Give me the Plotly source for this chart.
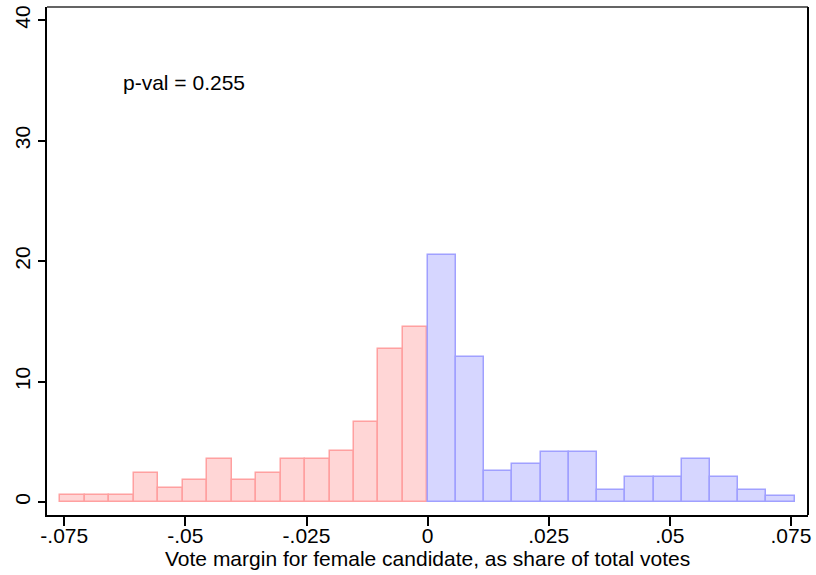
import plotly.graph_objects as go

# Histogram densities (left of cutoff: red, right of cutoff: blue)
red_heights = [0.55, 0.55, 0.55, 2.37, 1.16, 1.79, 3.61, 1.79, 2.37, 3.61, 3.61, 4.23, 6.63, 12.73, 14.55]
blue_heights = [20.51, 12.06, 2.57, 3.12, 4.14, 4.14, 0.99, 2.04, 2.04, 3.61, 2.04, 0.99, 0.46]
red_start, red_width = -0.0758, 0.00505
blue_start, blue_width = 0.0, 0.00583

red_left = [red_start + i * red_width for i in range(len(red_heights))]
blue_left = [blue_start + i * blue_width for i in range(len(blue_heights))]

x_tickvals = [-0.075, -0.05, -0.025, 0, 0.025, 0.05, 0.075]
x_ticktext = ["-.075", "-.05", "-.025", "0", ".025", ".05", ".075"]
y_tickvals = [0, 10, 20, 30, 40]
y_ticktext = ["0", "10", "20", "30", "40"]

FONT = "Liberation Sans, Arial"

fig = go.Figure()
fig.add_trace(go.Bar(
    x=red_left, y=red_heights, width=[red_width] * len(red_heights), offset=0,
    marker=dict(color="rgb(255,214,214)", line=dict(color="rgb(255,160,160)", width=1.5)),
    showlegend=False,
))
fig.add_trace(go.Bar(
    x=blue_left, y=blue_heights, width=[blue_width] * len(blue_heights), offset=0,
    marker=dict(color="rgb(214,214,255)", line=dict(color="rgb(160,160,255)", width=1.5)),
    showlegend=False,
))

fig.add_annotation(x=-0.0632, y=34.8, text="p-val = 0.255", showarrow=False,
                   xanchor="left", yanchor="middle",
                   font=dict(family=FONT, size=21, color="black"))

fig.add_annotation(xref="paper", yref="paper", x=0.5, y=0, yshift=-43,
                   text="Vote margin for female candidate, as share of total votes",
                   showarrow=False, xanchor="center", yanchor="middle",
                   font=dict(family=FONT, size=21, color="black"))

# top frame line in gray
fig.add_shape(type="line", xref="paper", yref="paper", x0=0, x1=1, y0=1, y1=1,
              line=dict(color="rgb(100,100,100)", width=2))
# right frame line
fig.add_shape(type="line", xref="paper", yref="paper", x0=1, x1=1, y0=0, y1=1,
              line=dict(color="black", width=2))

fig.update_layout(
    width=816, height=575,
    margin=dict(l=47, r=8, t=7, b=60),
    plot_bgcolor="white", paper_bgcolor="white",
    bargap=0,
    font=dict(family=FONT, size=21, color="black"),
    xaxis=dict(range=[-0.07857, 0.07853], tickvals=x_tickvals, ticktext=x_ticktext,
               ticks="outside", ticklen=9, tickwidth=1.5, tickcolor="black",
               showline=True, linecolor="black", linewidth=2, mirror=False,
               showgrid=False, zeroline=False, automargin=False,
               ticklabelstandoff=-8,
               tickfont=dict(size=21)),
    yaxis=dict(range=[-1.08, 41.1], tickvals=y_tickvals, ticktext=y_ticktext,
               ticks="outside", ticklen=7, tickwidth=1.5, tickcolor="black",
               showline=True, linecolor="black", linewidth=2, mirror=False,
               showgrid=False, zeroline=False, tickangle=-90, automargin=False,
               tickfont=dict(size=21)),
)

fig.write_html("out.html", config={"displayModeBar": False},
               post_script="document.body.style.margin='0px';document.body.style.overflow='hidden';")
